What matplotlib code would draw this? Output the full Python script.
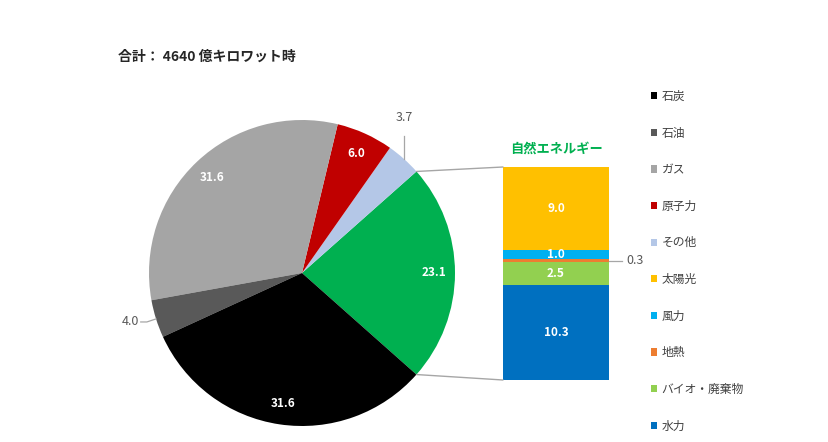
import numpy as np
import matplotlib
matplotlib.use("Agg")
import matplotlib.pyplot as plt
from matplotlib.patches import Patch, ConnectionPatch

plt.rcParams['font.family'] = ['Noto Sans CJK JP', 'DejaVu Sans']

# ---- data ----
pie_labels = ['自然エネルギー', 'その他', '原子力', 'ガス', '石油', '石炭']
pie_values = [23.1, 3.7, 6.0, 31.6, 4.0, 31.6]
pie_colors = ['#00B050', '#B4C7E7', '#C00000', '#A5A5A5', '#595959', '#000000']

bar_labels = ['水力', 'バイオ・廃棄物', '地熱', '風力', '太陽光']
bar_values = [10.3, 2.5, 0.3, 1.0, 9.0]
bar_colors = ['#0070C0', '#92D050', '#ED7D31', '#00B0F0', '#FFC000']

legend_order = ['石炭', '石油', 'ガス', '原子力', 'その他', '太陽光', '風力', '地熱', 'バイオ・廃棄物', '水力']
title_text = '合計： 4640 億キロワット時'
sub_title = '自然エネルギー'

W, H = 829, 442
fig = plt.figure(figsize=(W / 100, H / 100), dpi=100)

# ---- pie ----
cx, cy, r = 302, 273, 153
half = 1.2
size = 2 * half * r
axp = fig.add_axes([(cx - size / 2) / W, (H - cy - size / 2) / H, size / W, size / H])
start = -pie_values[0] * 3.6 / 2
wedges, _ = axp.pie(pie_values, colors=pie_colors, startangle=start,
                    counterclock=True, radius=1,
                    wedgeprops=dict(linewidth=0))
axp.set_xlim(-half, half)
axp.set_ylim(-half, half)
axp.set_aspect('equal')
axp.axis('off')

inside = {'自然エネルギー', 'ガス', '原子力', '石炭'}
for w, lab, v in zip(wedges, pie_labels, pie_values):
    mid = np.deg2rad((w.theta1 + w.theta2) / 2)
    if lab in inside:
        axp.text(0.86 * np.cos(mid), 0.86 * np.sin(mid), f'{v:.1f}',
                 ha='center', va='center', color='white', fontsize=8.5,
                 fontweight='bold')
    elif lab == 'その他':
        x0 = np.cos(mid)
        y0 = np.sin(mid)
        axp.plot([x0, x0], [y0, y0 + 0.15], color='#A6A6A6', lw=0.9)
        axp.text(x0, y0 + 0.27, f'{v:.1f}', ha='center', va='center',
                 color='#595959', fontsize=9)
    else:
        x0 = np.cos(mid)
        y0 = np.sin(mid)
        axp.plot([x0, x0 - 0.06, x0 - 0.1], [y0, y0 - 0.02, y0 - 0.02],
                 color='#A6A6A6', lw=0.9)
        axp.text(x0 - 0.17, y0 - 0.02, f'{v:.1f}', ha='center', va='center',
                 color='#595959', fontsize=9)

# ---- stacked bar ----
bx0, bx1, by0, by1 = 503, 609, 167, 380
axb = fig.add_axes([bx0 / W, (H - by1) / H, (bx1 - bx0) / W, (by1 - by0) / H])
total = sum(bar_values)
bottom = 0
for lab, v, c in zip(bar_labels, bar_values, bar_colors):
    axb.bar(0, v, bottom=bottom, width=1, color=c, linewidth=0)
    if v >= 1.0:
        axb.text(0, bottom + v / 2, f'{v:.1f}', ha='center', va='center',
                 color='white', fontsize=8.5, fontweight='bold')
    else:
        yy = bottom + v / 2
        axb.plot([0.5, 0.62], [yy, yy], color='#A6A6A6', lw=0.9, clip_on=False)
        axb.text(0.66, yy, f'{v:.1f}', ha='left', va='center',
                 color='#595959', fontsize=9, clip_on=False)
    bottom += v
axb.set_xlim(-0.5, 0.5)
axb.set_ylim(0, total)
axb.axis('off')
axb.text(0, total * 1.085, sub_title, ha='center', va='center', color='#00B050',
         fontsize=9.5, fontweight='bold')

# ---- connector lines ----
gw = wedges[0]
for ang, ybar in [(gw.theta2, total), (gw.theta1, 0)]:
    a = np.deg2rad(ang)
    con = ConnectionPatch(xyA=(np.cos(a), np.sin(a)), coordsA=axp.transData,
                          xyB=(-0.5, ybar), coordsB=axb.transData,
                          color='#A6A6A6', lw=1.0)
    fig.add_artist(con)

# ---- title ----
fig.text(118 / W, 1 - 57 / H, title_text, ha='left', va='center',
         fontsize=10, fontweight='bold', color='#262626')

# ---- legend ----
color_map = dict(zip(pie_labels, pie_colors))
color_map.update(dict(zip(bar_labels, bar_colors)))
handles = [Patch(facecolor=color_map[n], edgecolor='none') for n in legend_order]
fig.legend(handles, legend_order, loc='upper left',
           bbox_to_anchor=(645 / W, 1 - 84 / H), frameon=False,
           fontsize=8.5, labelspacing=2.0, handlelength=0.55, handleheight=0.55,
           handletextpad=0.35, borderpad=0, labelcolor='#404040')

fig.savefig('out.png', dpi=100, facecolor='white')
